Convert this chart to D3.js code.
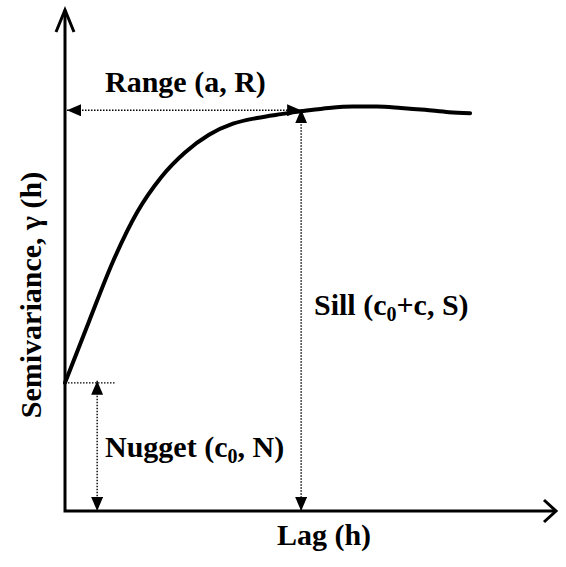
<!DOCTYPE html>
<html>
<head>
<meta charset="utf-8">
<script src="https://cdn.jsdelivr.net/npm/d3@7"></script>
<style>
  body { margin: 0; background: #fff; }
</style>
</head>
<body>
<svg id="chart"></svg>
<script>
// semivariogram model curve
const lag   = [0, 0.5, 1, 1.5, 2, 2.5, 3, 3.5, 4, 4.5, 5, 5.5, 6, 6.5, 7, 7.5, 8, 8.44];
const gamma = [2.67, 3.95, 5.2, 6.22, 6.95, 7.47, 7.84, 8.07, 8.19, 8.27, 8.34, 8.4, 8.43, 8.43, 8.4, 8.36, 8.31, 8.29];

const nugget = 2.67;
const sill = 8.35;
const range = 4.92;
const nuggetArrowLag = 0.67;
const nuggetTickEnd = 1.04;

const xLabel = "Lag (h)";
const yLabel = "Semivariance, \u03b3 (h)";

const width = 566, height = 567;
const font = '"Liberation Serif", "Times New Roman", serif';

const svg = d3.select('#chart')
    .attr('width', width)
    .attr('height', height);

const x = d3.scaleLinear().domain([0, 10.23]).range([65, 556]);
const y = d3.scaleLinear().domain([0, 10.44]).range([511, 10]);

// filled arrowhead for the dotted measure lines
const defs = svg.append('defs');
defs.append('marker')
    .attr('id', 'tri')
    .attr('viewBox', '0 0 14 12')
    .attr('refX', 14).attr('refY', 6)
    .attr('markerWidth', 14).attr('markerHeight', 12)
    .attr('markerUnits', 'userSpaceOnUse')
    .attr('orient', 'auto-start-reverse')
    .append('path')
    .attr('d', 'M0,0 L14,6 L0,12 Z')
    .attr('fill', '#000');

// axes
const axes = svg.append('g')
    .attr('fill', 'none')
    .attr('stroke', '#000')
    .attr('stroke-width', 3)
    .attr('stroke-linejoin', 'miter');

axes.append('path')
    .attr('d', `M${x(0)},${y(10.44)} L${x(0)},${y(0)} L${x(10.23)},${y(0)}`);
// open chevron heads
axes.append('path')
    .attr('d', `M${x(0) - 9},${y(10.44) + 22} L${x(0)},${y(10.44)} L${x(0) + 9},${y(10.44) + 22}`);
axes.append('path')
    .attr('d', `M${x(10.23) - 12},${y(0) - 11} L${x(10.23)},${y(0)} L${x(10.23) - 12},${y(0) + 11}`);

// dotted guides
const dots = svg.append('g')
    .attr('stroke', '#000')
    .attr('stroke-width', 1.4)
    .attr('stroke-dasharray', '1.5,1.5')
    .attr('fill', 'none');

// range
dots.append('line')
    .attr('x1', x(0) + 2).attr('y1', y(sill))
    .attr('x2', x(range)).attr('y2', y(sill))
    .attr('marker-start', 'url(#tri)')
    .attr('marker-end', 'url(#tri)');

// sill
dots.append('line')
    .attr('x1', x(range)).attr('y1', y(sill) - 1)
    .attr('x2', x(range)).attr('y2', y(0))
    .attr('marker-start', 'url(#tri)')
    .attr('marker-end', 'url(#tri)');

// nugget
dots.append('line')
    .attr('x1', x(0)).attr('y1', y(nugget))
    .attr('x2', x(nuggetTickEnd)).attr('y2', y(nugget));
dots.append('line')
    .attr('x1', x(nuggetArrowLag)).attr('y1', y(nugget) - 2)
    .attr('x2', x(nuggetArrowLag)).attr('y2', y(0))
    .attr('marker-start', 'url(#tri)')
    .attr('marker-end', 'url(#tri)');

// model curve
const line = d3.line()
    .x((d, i) => x(lag[i]))
    .y(d => y(d))
    .curve(d3.curveMonotoneX);

svg.append('path')
    .attr('d', line(gamma))
    .attr('fill', 'none')
    .attr('stroke', '#000')
    .attr('stroke-width', 4)
    .attr('stroke-linecap', 'round');

// labels
const fs = 30, sub = 20;
const label = (xp, yp) => svg.append('text')
    .attr('x', xp).attr('y', yp)
    .attr('font-family', font)
    .attr('font-weight', 'bold')
    .attr('font-size', fs)
    .attr('fill', '#000');

label(105, 92).text('Range (a, R)');

const sillText = label(314, 315);
sillText.append('tspan').text('Sill (c');
sillText.append('tspan').attr('font-size', sub).attr('dy', 6).text('0');
sillText.append('tspan').attr('dy', -6).text('+c, S)');

const nugText = label(105, 457);
nugText.append('tspan').text('Nugget (c');
nugText.append('tspan').attr('font-size', sub).attr('dy', 6).text('0');
nugText.append('tspan').attr('dy', -6).text(', N)');

label(324, 545)
    .attr('text-anchor', 'middle')
    .text(xLabel);

label(0, 0)
    .attr('transform', 'translate(41,295) rotate(-90)')
    .attr('text-anchor', 'middle')
    .text(yLabel);
</script>
</body>
</html>
